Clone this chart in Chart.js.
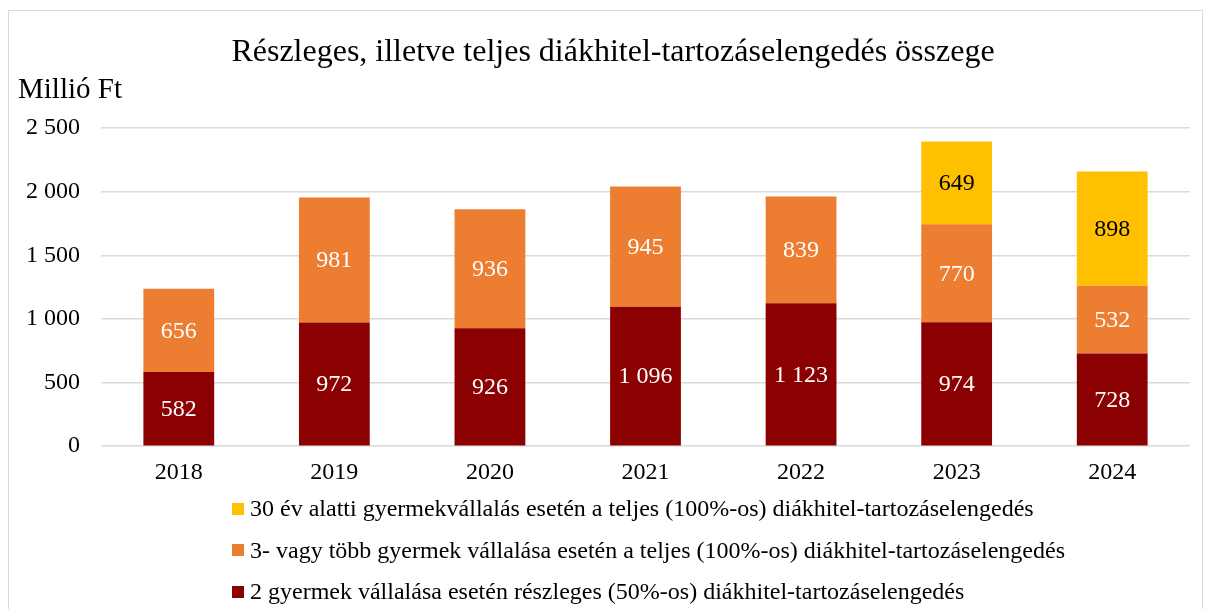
<!DOCTYPE html>
<html>
<head>
<meta charset="utf-8">
<script src="https://cdn.jsdelivr.net/npm/chart.js@4"></script>
<style>
  body { margin: 0; background: #fff; font-family: "Liberation Serif", "Times New Roman", serif; }
  #wrap { position: relative; width: 1208px; height: 609px; overflow: hidden; }
  #frame { position: absolute; left: 8px; top: 10px; width: 1195px; height: 640px; border: 1.5px solid #d9d9d9; box-sizing: border-box; }
  canvas { position: absolute; left: 0; top: 0; }
  #title { position: absolute; left: 113px; width: 1000px; top: 31px; text-align: center; font-size: 32px; line-height: 38px; color: #000; }
  #unit { position: absolute; left: 18px; top: 72px; font-size: 29px; color: #000; }
  #legend { position: absolute; left: 232px; top: 488px; font-size: 24px; color: #000; }
  .row { height: 41.5px; display: flex; align-items: center; }
  .box { width: 12px; height: 12px; margin-right: 6px; }
</style>
</head>
<body>
<div id="wrap">
  <div id="frame"></div>
  <canvas id="myChart" width="1208" height="609"></canvas>
  <div id="title">Részleges, illetve teljes diákhitel-tartozáselengedés összege</div>
  <div id="unit">Millió Ft</div>
  <div id="legend"></div>
</div>
<script>
// adatok
const years = ['2018', '2019', '2020', '2021', '2022', '2023', '2024'];
const ketGyermek = [582, 972, 926, 1096, 1123, 974, 728];
const haromVagyTobb = [656, 981, 936, 945, 839, 770, 532];
const harmincAlatt = [null, null, null, null, null, 649, 898];
const yTicks = [0, 500, 1000, 1500, 2000, 2500];

const labels = {
  ket: '2 gyermek vállalása esetén részleges (50%-os) diákhitel-tartozáselengedés',
  harom: '3- vagy több gyermek vállalása esetén a teljes (100%-os) diákhitel-tartozáselengedés',
  harminc: '30 év alatti gyermekvállalás esetén a teljes (100%-os) diákhitel-tartozáselengedés'
};

const colors = { ket: '#8b0000', harom: '#ed7d31', harminc: '#ffc000' };

function fmt(v) {
  return String(v).replace(/\B(?=(\d{3})+(?!\d))/g, ' ');
}

// ertekek a savokon
const valueLabels = {
  id: 'valueLabels',
  afterDatasetsDraw(chart) {
    const ctx = chart.ctx;
    ctx.save();
    ctx.font = '24px "Liberation Serif", serif';
    ctx.textAlign = 'center';
    ctx.textBaseline = 'middle';
    chart.data.datasets.forEach((ds, di) => {
      const meta = chart.getDatasetMeta(di);
      meta.data.forEach((bar, i) => {
        const v = ds.data[i];
        if (v == null) return;
        const mid = (bar.y + bar.base) / 2;
        ctx.fillStyle = ds.labelColor;
        ctx.fillText(fmt(v), bar.x, mid + 1);
      });
    });
    ctx.restore();
  }
};

const ctx = document.getElementById('myChart');

new Chart(ctx, {
  type: 'bar',
  data: {
    labels: years,
    datasets: [
      { label: labels.ket, data: ketGyermek, backgroundColor: colors.ket, labelColor: '#fff' },
      { label: labels.harom, data: haromVagyTobb, backgroundColor: colors.harom, labelColor: '#fff' },
      { label: labels.harminc, data: harmincAlatt, backgroundColor: colors.harminc, labelColor: '#000' }
    ]
  },
  options: {
    responsive: false,
    animation: false,
    barPercentage: 0.455,
    categoryPercentage: 1,
    layout: { padding: { left: 0, right: 18, top: 128, bottom: 118 } },
    plugins: {
      legend: { display: false },
      tooltip: { enabled: false },
      title: { display: false }
    },
    scales: {
      x: {
        stacked: true,
        grid: { display: false },
        border: { display: false },
        ticks: { color: '#000', padding: 4, font: { family: '"Liberation Serif", serif', size: 24 } }
      },
      y: {
        stacked: true,
        min: 0,
        max: 2500,
        afterFit: (scale) => { scale.width = 101; },
        afterBuildTicks: (scale) => { scale.ticks = yTicks.map(v => ({ value: v })); },
        grid: { color: '#d9d9d9', lineWidth: 1.5, drawTicks: false },
        border: { display: false },
        ticks: {
          color: '#000',
          padding: 21,
          font: { family: '"Liberation Serif", serif', size: 24 },
          callback: (v) => fmt(v)
        }
      }
    }
  },
  plugins: [valueLabels]
});

// jelmagyarazat forditott sorrendben
const legendEl = document.getElementById('legend');
['harminc', 'harom', 'ket'].forEach((k) => {
  const row = document.createElement('div');
  row.className = 'row';
  row.innerHTML = '<span class="box" style="background:' + colors[k] + '"></span><span>' + labels[k] + '</span>';
  legendEl.appendChild(row);
});
</script>
</body>
</html>
